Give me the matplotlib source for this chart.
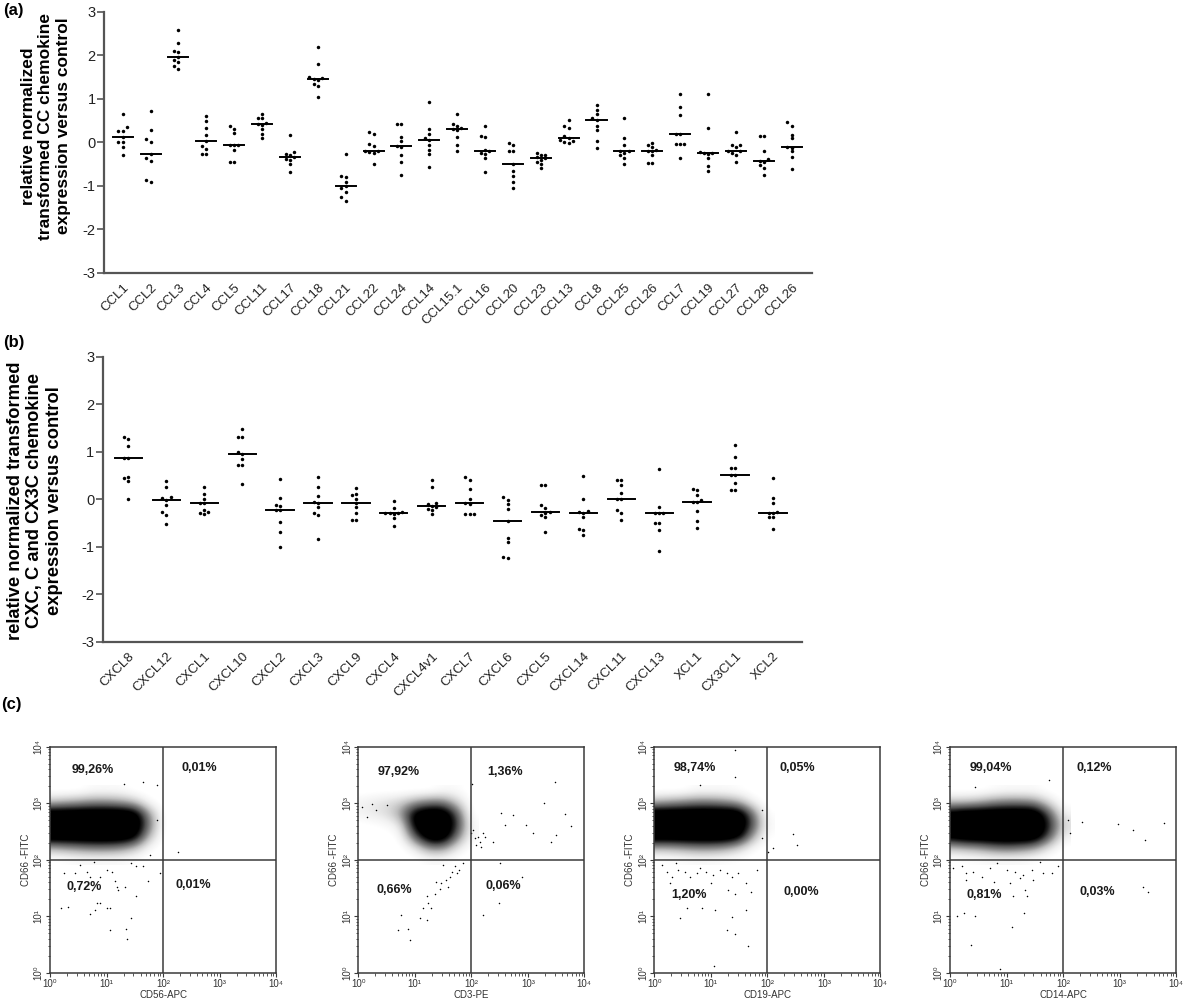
import numpy as np
import matplotlib
matplotlib.use('Agg')
import matplotlib.pyplot as plt
from matplotlib.ticker import FixedLocator

plt.rcParams['font.family'] = ['Liberation Sans', 'DejaVu Sans']

# ---------------- Panel (a) data: CC chemokines ----------------
cc_labels = ['CCL1', 'CCL2', 'CCL3', 'CCL4', 'CCL5', 'CCL11', 'CCL17', 'CCL18',
             'CCL21', 'CCL22', 'CCL24', 'CCL14', 'CCL15.1', 'CCL16', 'CCL20',
             'CCL23', 'CCL13', 'CCL8', 'CCL25', 'CCL26', 'CCL7', 'CCL19',
             'CCL27', 'CCL28', 'CCL26']
cc_values = [
    [0.65, 0.35, 0.27, 0.27, 0.13, 0.0, 0.0, -0.1, -0.29],
    [0.72, 0.28, 0.08, 0.0, -0.27, -0.37, -0.43, -0.86, -0.91],
    [2.58, 2.27, 2.1, 2.08, 1.96, 1.9, 1.85, 1.76, 1.69],
    [0.6, 0.49, 0.33, 0.17, 0.02, -0.08, -0.16, -0.27, -0.27],
    [0.37, 0.3, 0.21, -0.05, -0.07, -0.07, -0.17, -0.45, -0.45],
    [0.64, 0.55, 0.55, 0.45, 0.42, 0.4, 0.3, 0.2, 0.09],
    [0.16, -0.22, -0.26, -0.3, -0.33, -0.38, -0.4, -0.49, -0.67],
    [2.2, 1.8, 1.5, 1.48, 1.45, 1.44, 1.35, 1.3, 1.04],
    [-0.27, -0.77, -0.8, -0.92, -1.01, -1.05, -1.13, -1.26, -1.34],
    [0.24, 0.19, -0.04, -0.08, -0.19, -0.19, -0.22, -0.24, -0.5],
    [0.42, 0.42, 0.13, 0.02, -0.08, -0.1, -0.29, -0.44, -0.74],
    [0.93, 0.3, 0.2, 0.1, 0.05, -0.05, -0.17, -0.27, -0.56],
    [0.64, 0.43, 0.37, 0.33, 0.3, 0.28, 0.13, -0.05, -0.19],
    [0.37, 0.14, 0.12, -0.18, -0.21, -0.24, -0.27, -0.37, -0.68],
    [-0.02, -0.05, -0.19, -0.19, -0.49, -0.65, -0.78, -0.92, -1.04],
    [-0.24, -0.28, -0.3, -0.33, -0.37, -0.4, -0.45, -0.5, -0.6],
    [0.51, 0.37, 0.32, 0.15, 0.09, 0.06, 0.03, 0.0, -0.02],
    [0.85, 0.75, 0.64, 0.55, 0.51, 0.38, 0.28, 0.03, -0.14],
    [0.55, 0.09, -0.05, -0.19, -0.21, -0.25, -0.29, -0.35, -0.5],
    [-0.01, -0.05, -0.1, -0.17, -0.19, -0.21, -0.3, -0.48, -0.48],
    [1.1, 0.81, 0.62, 0.2, 0.19, -0.04, -0.04, -0.04, -0.36],
    [1.1, 0.32, -0.22, -0.24, -0.25, -0.27, -0.37, -0.54, -0.65],
    [0.23, -0.06, -0.06, -0.1, -0.21, -0.21, -0.24, -0.29, -0.44],
    [0.14, 0.14, -0.21, -0.38, -0.42, -0.46, -0.52, -0.6, -0.75],
    [0.46, 0.38, 0.18, 0.09, -0.1, -0.12, -0.21, -0.33, -0.61],
]

# ---------------- Panel (b) data: CXC, C, CX3C chemokines ----------------
cxc_labels = ['CXCL8', 'CXCL12', 'CXCL1', 'CXCL10', 'CXCL2', 'CXCL3', 'CXCL9',
              'CXCL4', 'CXCL4v1', 'CXCL7', 'CXCL6', 'CXCL5', 'CXCL14', 'CXCL11',
              'CXCL13', 'XCL1', 'CX3CL1', 'XCL2']
cxc_values = [
    [1.32, 1.26, 1.11, 0.87, 0.86, 0.46, 0.45, 0.38, 0.0],
    [0.38, 0.26, 0.04, 0.03, -0.01, -0.13, -0.26, -0.33, -0.53],
    [0.26, 0.12, 0.0, -0.08, -0.08, -0.23, -0.26, -0.29, -0.31],
    [1.47, 1.32, 1.32, 1.0, 0.95, 0.84, 0.73, 0.73, 0.33],
    [0.43, 0.03, -0.13, -0.15, -0.23, -0.23, -0.49, -0.7, -1.01],
    [0.46, 0.26, 0.07, -0.06, -0.08, -0.16, -0.29, -0.33, -0.84],
    [0.24, 0.1, 0.08, 0.01, -0.07, -0.16, -0.29, -0.43, -0.43],
    [-0.04, -0.18, -0.26, -0.28, -0.3, -0.3, -0.32, -0.4, -0.56],
    [0.41, 0.26, -0.08, -0.11, -0.15, -0.17, -0.2, -0.23, -0.31],
    [0.47, 0.41, 0.21, 0.0, -0.08, -0.1, -0.31, -0.31, -0.31],
    [0.05, -0.02, -0.1, -0.2, -0.46, -0.82, -0.91, -1.22, -1.24],
    [0.29, 0.29, -0.13, -0.18, -0.26, -0.28, -0.33, -0.38, -0.69],
    [0.49, 0.01, -0.24, -0.26, -0.28, -0.37, -0.63, -0.65, -0.75],
    [0.4, 0.4, 0.29, 0.13, 0.01, 0.0, -0.23, -0.3, -0.44],
    [0.64, -0.16, -0.28, -0.3, -0.3, -0.51, -0.51, -0.65, -1.1],
    [0.22, 0.2, 0.08, -0.02, -0.06, -0.06, -0.25, -0.46, -0.61],
    [1.14, 0.89, 0.66, 0.65, 0.52, 0.5, 0.35, 0.19, 0.19],
    [0.45, 0.03, -0.09, -0.27, -0.28, -0.29, -0.37, -0.37, -0.63],
]
y_ticks = [-3, -2, -1, 0, 1, 2, 3]

# ---------------- Panel (c) data: flow cytometry (log10 units) ----------------
flow_xlabels = ['CD56-APC', 'CD3-PE', 'CD19-APC', 'CD14-APC']
flow_ylabel = 'CD66 -FITC'
decade_labels = ['10⁰', '10¹', '10²', '10³', '10⁴']
# quadrant percentages: UL, UR, LL, LR
flow_pct = [
    ['99,26%', '0,01%', '0,72%', '0,01%'],
    ['97,92%', '1,36%', '0,66%', '0,06%'],
    ['98,74%', '0,05%', '1,20%', '0,00%'],
    ['99,04%', '0,12%', '0,81%', '0,03%'],
]
# density of the main event cloud (darkness 0..1), rows = log y 2.0..3.2, cols = log x 0..2
cloud_x = [0.0, 0.25, 0.5, 0.75, 1.0, 1.25, 1.5, 1.75, 2.0]
cloud_y = [2.0, 2.2, 2.4, 2.6, 2.8, 3.0, 3.2]
cloud_1 = [
    [0, 0.02, 0.05, 0.05, 0.05, 0.05, 0.02, 0, 0],
    [0.35, 0.4, 0.45, 0.5, 0.5, 0.45, 0.3, 0.05, 0],
    [1, 1, 1, 1, 1, 1, 0.9, 0.3, 0],
    [1, 1, 1, 1, 1, 1, 1, 0.5, 0],
    [1, 1, 1, 1, 1, 1, 0.95, 0.4, 0],
    [0.3, 0.35, 0.4, 0.45, 0.45, 0.4, 0.3, 0.05, 0],
    [0, 0, 0, 0.05, 0.05, 0.05, 0, 0, 0],
]
cloud_2 = [
    [0, 0, 0, 0, 0, 0.05, 0.05, 0, 0],
    [0, 0, 0, 0, 0.15, 0.45, 0.45, 0.15, 0],
    [0, 0, 0, 0.05, 0.6, 1, 1, 0.5, 0.05],
    [0, 0.02, 0.05, 0.15, 0.9, 1, 1, 0.7, 0.05],
    [0.1, 0.15, 0.2, 0.4, 0.9, 1, 1, 0.6, 0],
    [0.1, 0.15, 0.2, 0.25, 0.4, 0.5, 0.5, 0.25, 0],
    [0, 0, 0, 0, 0, 0, 0.05, 0.05, 0],
]
cloud_3 = [
    [0, 0.02, 0.03, 0.05, 0.05, 0.03, 0.02, 0, 0],
    [0.35, 0.35, 0.4, 0.45, 0.45, 0.4, 0.25, 0.05, 0],
    [1, 1, 1, 1, 1, 1, 0.9, 0.35, 0.02],
    [1, 1, 1, 1, 1, 1, 1, 0.6, 0.05],
    [1, 1, 1, 1, 1, 1, 1, 0.5, 0.02],
    [0.35, 0.4, 0.45, 0.5, 0.5, 0.45, 0.35, 0.1, 0],
    [0, 0, 0, 0.05, 0.05, 0.05, 0.03, 0, 0],
]
cloud_4 = [
    [0, 0.02, 0.03, 0.05, 0.05, 0.05, 0.02, 0, 0],
    [0.3, 0.35, 0.4, 0.5, 0.55, 0.5, 0.4, 0.15, 0],
    [0.9, 1, 1, 1, 1, 1, 1, 0.6, 0.1],
    [1, 1, 1, 1, 1, 1, 1, 0.75, 0.2],
    [0.9, 1, 1, 1, 1, 1, 1, 0.6, 0.1],
    [0.3, 0.3, 0.35, 0.45, 0.5, 0.5, 0.45, 0.2, 0],
    [0, 0, 0, 0.03, 0.05, 0.05, 0.05, 0, 0],
]
# sparse single events (log10 x, log10 y)
events_1_x = [0.24, 0.19, 0.32, 0.53, 0.44, 0.7, 0.74, 0.83, 0.88, 0.7, 0.8, 1.0, 1.06, 1.06,
              1.35, 1.37, 1.43, 1.52, 1.18, 1.21, 1.32, 1.15, 1.0, 1.09, 1.43, 1.53, 1.64,
              1.74, 1.95, 0.88, 0.65, 0.78, 1.65, 1.31, 1.89, 1.89, 1.77, 2.27]
events_1_y = [1.77, 1.14, 1.17, 1.91, 1.76, 1.7, 1.46, 1.23, 1.24, 1.04, 1.11, 1.14, 1.14, 0.76,
              0.77, 0.59, 0.96, 1.35, 1.52, 1.46, 1.52, 1.63, 1.82, 1.79, 1.94, 1.88, 1.89,
              1.62, 1.77, 1.7, 1.79, 1.96, 3.38, 3.34, 3.32, 2.7, 2.08, 2.13]
events_2_x = [0.71, 0.76, 0.88, 0.92, 1.09, 1.21, 1.15, 1.24, 1.29, 1.21, 1.35, 1.44, 1.47,
              1.56, 1.62, 1.65, 1.74, 1.71, 1.79, 1.85, 1.5, 1.59, 1.38,
              2.0, 2.06, 2.12, 2.15, 2.21, 2.09, 2.18, 2.03, 2.25, 2.38, 2.53, 2.59, 2.74,
              2.97, 3.09, 3.29, 3.48, 3.5, 3.65, 3.76, 3.41, 2.02, 2.5, 2.9, 2.49, 2.21,
              0.06, 0.15, 0.32, 0.5, 0.24]
events_2_y = [0.76, 1.03, 0.77, 0.58, 0.96, 0.94, 1.14, 1.23, 1.14, 1.35, 1.4, 1.49, 1.58,
              1.64, 1.7, 1.79, 1.76, 1.88, 1.82, 1.94, 1.91, 1.52, 1.61,
              2.47, 2.38, 2.41, 2.32, 2.47, 2.26, 2.23, 2.53, 2.41, 2.32, 2.82, 2.61, 2.79,
              2.61, 2.47, 3.0, 3.38, 2.44, 2.81, 2.6, 2.32, 3.34, 1.95, 1.7, 1.23, 1.02,
              2.94, 2.76, 2.88, 2.97, 2.99]
events_3_x = [0.13, 0.22, 0.31, 0.42, 0.54, 0.63, 0.75, 0.81, 0.92, 1.04, 1.16, 1.28, 1.37,
              1.48, 0.28, 0.51, 0.75, 1.01, 1.31, 1.43, 1.63, 1.72, 0.57, 0.84, 1.07, 1.37,
              1.63, 0.45, 1.29, 1.43, 1.66, 1.05, 1.81, 0.39,
              2.46, 2.53, 2.01, 2.1, 1.43, 1.43, 0.81, 1.91, 1.91]
events_3_y = [1.91, 1.79, 1.7, 1.82, 1.79, 1.7, 1.76, 1.85, 1.79, 1.73, 1.82, 1.76, 1.7,
              1.76, 1.58, 1.46, 1.46, 1.58, 1.46, 1.4, 1.59, 1.43, 1.14, 1.14, 1.11, 0.99,
              1.11, 0.96, 0.76, 0.68, 0.47, 0.11, 1.82, 1.94,
              2.45, 2.26, 2.14, 2.2, 3.94, 3.47, 3.32, 2.88, 2.38]
events_4_x = [0.06, 0.21, 0.29, 0.41, 0.56, 0.71, 0.83, 1.0, 1.15, 1.3, 1.45, 1.65, 1.8,
              0.29, 0.77, 1.06, 1.24, 1.47, 1.36, 1.33, 1.12, 0.12, 0.24, 0.44, 1.31, 1.09,
              0.37, 0.88, 1.92, 1.59,
              2.33, 2.98, 3.24, 3.45, 3.78, 2.09, 2.12, 3.41, 3.51, 1.76, 0.44]
events_4_y = [1.85, 1.88, 1.77, 1.79, 1.7, 1.85, 1.94, 1.82, 1.79, 1.73, 1.82, 1.76, 1.77,
              1.64, 1.61, 1.58, 1.67, 1.64, 1.35, 1.46, 1.35, 1.0, 1.05, 1.0, 1.06, 0.81,
              0.49, 0.06, 1.88, 1.96,
              2.67, 2.64, 2.53, 2.34, 2.65, 2.7, 2.47, 1.52, 1.43, 3.41, 3.29]

clouds = [cloud_1, cloud_2, cloud_3, cloud_4]
events_x = [events_1_x, events_2_x, events_3_x, events_4_x]
events_y = [events_1_y, events_2_y, events_3_y, events_4_y]

# ---------------- Figure ----------------
W, H = 1200, 1007
fig = plt.figure(figsize=(W / 100, H / 100), dpi=100)
AXC = '#3a3a3a'


def fx(px):
    return px / W


def fy(py):
    return 1 - py / H


def swarm_offsets(vals, dy_thr, step):
    vals = np.asarray(vals, dtype=float)
    order = np.argsort(vals)
    placed = []
    offs = np.zeros(len(vals))
    for i in order:
        v = vals[i]
        for k in [0, -1, 1, -2, 2, -3, 3]:
            o = k * step
            ok = all(abs(v - pv) >= dy_thr or abs(o - po) >= step * 0.99 for pv, po in placed)
            if ok:
                offs[i] = o
                placed.append((v, o))
                break
    return offs


def dot_panel(ax, labels, values, xlim, px_per_cat, px_per_unit):
    step = 4.2 / px_per_cat
    dy_thr = 3.6 / px_per_unit
    for i, vals in enumerate(values):
        offs = swarm_offsets(vals, dy_thr, step)
        ax.plot(i + offs, vals, 'o', color='black', ms=2.5, mew=0, zorder=3)
        med = np.median(vals)
        ax.plot([i - 0.36, i + 0.36], [med, med], color='black', lw=1.4, zorder=2)
    ax.set_xlim(*xlim)
    ax.set_ylim(-3, 3)
    ax.set_yticks(y_ticks)
    ax.set_yticklabels([str(t) for t in y_ticks])
    ax.set_xticks(range(len(labels)))
    ax.set_xticklabels(labels, rotation=45, ha='right', va='top', rotation_mode='anchor')
    for s in ['top', 'right']:
        ax.spines[s].set_visible(False)
    for s in ['left', 'bottom']:
        ax.spines[s].set_color('#555555')
        ax.spines[s].set_linewidth(1.6)
    ax.tick_params(axis='y', length=5, width=1.2, color='#555555', labelsize=10.5, pad=1,
                   labelcolor='#222222')
    ax.tick_params(axis='x', length=0, labelsize=9.5, pad=6, labelcolor='#222222')


# Panel (a)
axa = fig.add_axes([fx(104), fy(273), fx(812 - 104), (273 - 11.7) / H])
dot_panel(axa, cc_labels, cc_values, (-0.67, 24.73), 27.9, 43.6)
fig.text(fx(46), fy(126), 'relative normalized\ntransformed CC chemokine\nexpression versus control',
         rotation=90, ha='center', va='center', multialignment='center',
         fontsize=12.5, fontweight='bold', linespacing=1.2)
fig.text(fx(3), fy(11), '(a)', fontsize=12, fontweight='bold', ha='left', va='center')

# Panel (b)
axb = fig.add_axes([fx(102.7), fy(641.7), fx(801.7 - 102.7), (641.7 - 356.7) / H])
dot_panel(axb, cxc_labels, cxc_values, (-0.68, 17.76), 37.9, 47.5)
fig.text(fx(35), fy(501), 'relative normalized transformed\nCXC, C and CX3C chemokine\nexpression versus control',
         rotation=90, ha='center', va='center', multialignment='center',
         fontsize=13.2, fontweight='bold', linespacing=1.2)
fig.text(fx(3), fy(343), '(b)', fontsize=12, fontweight='bold', ha='left', va='center')

# Panel (c)
fig.text(fx(1), fy(704), '(c)', fontsize=12, fontweight='bold', ha='left', va='center')
flow_lefts = [50, 358.3, 654.3, 950]
pct_pos = [
    [(0.39, 3.58), (2.33, 3.62), (0.29, 1.52), (2.22, 1.55)],
    [(0.35, 3.56), (2.29, 3.56), (0.32, 1.46), (2.25, 1.53)],
    [(0.34, 3.63), (2.22, 3.63), (0.3, 1.37), (2.28, 1.42)],
    [(0.35, 3.63), (2.24, 3.63), (0.3, 1.37), (2.3, 1.42)],
]
pct_font = ['Liberation Sans Narrow', 'Liberation Sans', 'DejaVu Sans']
minor_locs = [n + np.log10(k) for n in range(4) for k in range(2, 10)]
for j in range(4):
    ax = fig.add_axes([fx(flow_lefts[j]), fy(972.7), 226 / W, 226 / H])
    dx = cloud_x[1] - cloud_x[0]
    dyc = cloud_y[1] - cloud_y[0]
    ax.imshow(np.array(clouds[j]), extent=[cloud_x[0] - dx / 2, cloud_x[-1] + dx / 2,
                                            cloud_y[0] - dyc / 2, cloud_y[-1] + dyc / 2],
              origin='lower', cmap='Greys', vmin=0.03, vmax=0.8, interpolation='bicubic',
              aspect='auto', zorder=1)
    ax.scatter(events_x[j], events_y[j], s=1.2, color='black', linewidths=0, zorder=2)
    ax.axvline(2, color=AXC, lw=1.1, zorder=3)
    ax.axhline(2, color=AXC, lw=1.1, zorder=3)
    ax.set_xlim(0, 4)
    ax.set_ylim(0, 4)
    for s in ax.spines.values():
        s.set_color(AXC)
        s.set_linewidth(1.1)
    ax.set_xticks(range(5))
    ax.set_yticks(range(5))
    ax.set_xticklabels(decade_labels)
    ax.set_yticklabels(decade_labels, rotation=90, va='center')
    ax.xaxis.set_minor_locator(FixedLocator(minor_locs))
    ax.yaxis.set_minor_locator(FixedLocator(minor_locs))
    ax.tick_params(which='major', length=3, width=0.8, color=AXC, labelsize=7, pad=1.5,
                   labelcolor='#333333')
    ax.tick_params(which='minor', length=1.8, width=0.6, color=AXC)
    ax.set_xlabel(flow_xlabels[j], fontsize=7, labelpad=1, color='#333333')
    ax.set_ylabel(flow_ylabel, fontsize=7, labelpad=2, color='#333333')
    for k in range(4):
        px_, py_ = pct_pos[j][k]
        ax.text(px_, py_, flow_pct[j][k], fontsize=9, fontweight='bold', ha='left',
                va='center', family=pct_font, color='#1a1a1a', zorder=4)

fig.savefig('out.png', dpi=100)
